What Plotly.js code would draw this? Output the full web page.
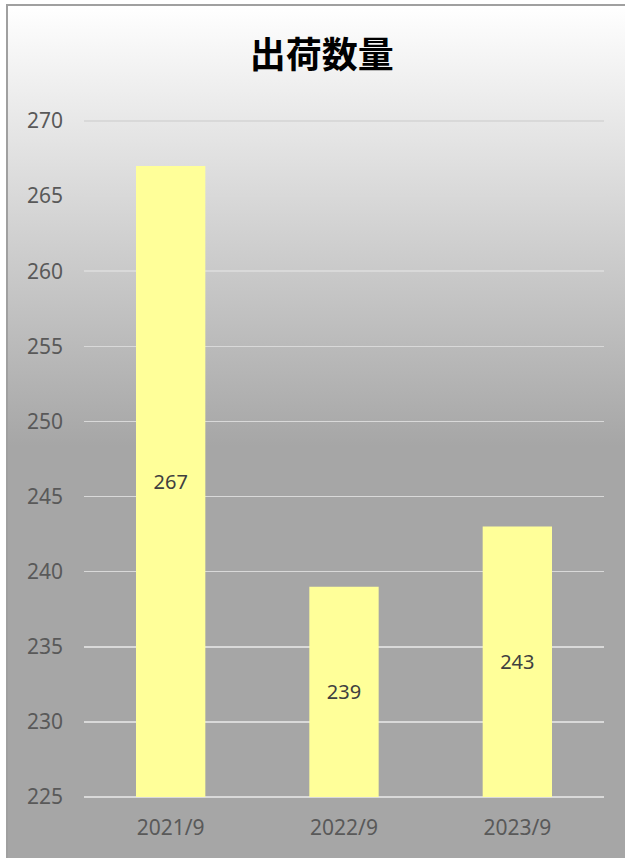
<!DOCTYPE html>
<html>
<head>
<meta charset="utf-8">
<script src="https://cdn.plot.ly/plotly-3.0.1.min.js"></script>
<style>
  html, body { margin: 0; padding: 0; width: 625px; height: 858px; overflow: hidden; }
  #bg { position: absolute; left: 6px; top: 4px; width: 640px; height: 880px;
        border: 2px solid #a0a0a0; box-sizing: border-box;
        background: linear-gradient(to bottom, #ffffff 0px, #a6a6a6 440px, #a6a6a6 100%); }
  #chart { position: absolute; left: 0; top: 0; width: 625px; height: 858px; }
</style>
</head>
<body>
<div id="bg"></div>
<div id="chart"></div>
<script>
const categories = ["2021/9", "2022/9", "2023/9"];
const values = [267, 239, 243];
const yTicks = [225, 230, 235, 240, 245, 250, 255, 260, 265, 270];
const axisMin = 225;
const chartTitle = "出荷数量";

const trace = {
  type: "bar",
  x: categories,
  y: values.map(v => v - axisMin),
  base: axisMin,
  marker: { color: "#ffff99" },
  text: values.map(String),
  textposition: "inside",
  insidetextanchor: "middle",
  textangle: 0,
  textfont: { family: "Noto Sans, Open Sans, sans-serif", size: 20, color: "#404040" },
  hoverinfo: "none"
};

const layout = {
  width: 625,
  height: 858,
  paper_bgcolor: "rgba(0,0,0,0)",
  plot_bgcolor: "rgba(0,0,0,0)",
  margin: { l: 84, r: 21, t: 119, b: 59 },
  bargap: 0.6,
  showlegend: false,
  title: {
    text: "<b>" + chartTitle + "</b>",
    font: { family: "Noto Sans CJK JP, sans-serif", size: 36, color: "#000000" },
    x: 0.515, xanchor: "center",
    y: 0.935, yanchor: "middle"
  },
  xaxis: {
    type: "category",
    tickfont: { family: "Noto Sans, Open Sans, sans-serif", size: 21, color: "#595959" },
    ticks: "",
    showline: false,
    showgrid: false,
    ticklabelstandoff: 14
  },
  yaxis: {
    range: [224.87, 270.13],
    tickvals: yTicks,
    ticktext: yTicks.map(String),
    tickfont: { family: "Noto Sans, Open Sans, sans-serif", size: 21, color: "#595959" },
    ticks: "",
    showgrid: true,
    gridcolor: "#d9d9d9",
    gridwidth: 1.5,
    zeroline: false,
    showline: false,
    ticklabelstandoff: 20
  }
};

Plotly.newPlot("chart", [trace], layout, { displayModeBar: false, staticPlot: true });
</script>
</body>
</html>
